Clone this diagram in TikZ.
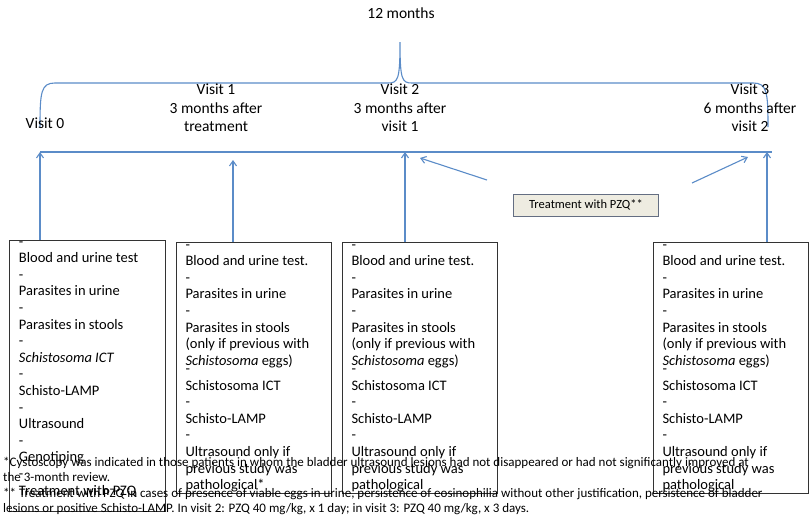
\documentclass[tikz,border=0pt]{standalone}
\usepackage{fontspec}
\setmainfont{Carlito}
\usetikzlibrary{arrows.meta}
\definecolor{lb}{RGB}{91,140,200}
\definecolor{tbg}{RGB}{238,236,225}
\definecolor{tbd}{RGB}{100,110,130}
\newcommand{\itm}[1]{-\hspace{1.1em}\parbox[t]{128pt}{\raggedright #1}\\}
\begin{document}
\begin{tikzpicture}[x=1pt,y=-1pt,
  bl/.style={draw=lb,line width=1.1pt},
  ar/.style={bl,-{Straight Barb[length=5pt,width=7pt]}},
  lab/.style={font=\fontsize{15.5}{18.5}\selectfont,align=center,inner sep=0pt},
  box/.style={draw=black!80,line width=1pt,anchor=north west,inner sep=0pt,minimum width=#1,font=\fontsize{14.5}{16.6}\selectfont,align=left}]
\useasboundingbox (0,0) rectangle (811,525);
\fill[white] (0,0) rectangle (811,525);
\node[lab] (m12) at (401,13) {12 months};
\draw[bl] (40,127) .. controls (40,92) and (41,83) .. (55,83) -- (388,83) .. controls (398,83) and (400,80) .. (400,42)
  (400,42) .. controls (400,80) and (402,83) .. (412,83) -- (753,83) .. controls (767,83) and (768,92) .. (768,127);
\node[lab] (v0) at (45,123) {Visit 0};
\node[lab,anchor=north] (v1) at (216,84) {Visit 1\\3 months after\\treatment};
\node[lab,anchor=north] (v2) at (400,84) {Visit 2\\3 months after\\visit 1};
\node[lab,anchor=north] (v3) at (750,84) {Visit 3\\6 months after\\visit 2};
\coordinate (tl) at (40,152); \coordinate (tr) at (772,152);
\draw[bl] (tl) -- (tr);
\node[draw=tbd,line width=1pt,fill=tbg,minimum width=145pt,minimum height=22pt,font=\fontsize{12.5}{14}\selectfont] (pzq) at (586,205) {Treatment with PZQ**};
\coordinate (p1s) at (487,180); \coordinate (p1e) at (420,158);
\coordinate (p2s) at (692,183); \coordinate (p2e) at (748,157);
\draw[ar] (p1s) -- (p1e);
\draw[ar] (p2s) -- (p2e);
\node[box=156pt,minimum height=143pt] (b0) at (9,240) {\hspace*{9pt}\begin{minipage}[t]{146pt}\vspace{1pt}
\itm{Blood and urine test}\itm{Parasites in urine}\itm{Parasites in stools}\itm{\textit{Schistosoma ICT}}\itm{Schisto-LAMP}\itm{Ultrasound}\itm{Genotiping}\itm{Treatment with PZQ}\end{minipage}};
\newcommand{\later}[1]{\hspace*{9pt}\begin{minipage}[t]{146pt}\vspace{2pt}
\itm{Blood and urine test.}\itm{Parasites in urine}\itm{Parasites in stools\\(only if previous with\\\textit{Schistosoma} eggs)}\itm{Schistosoma ICT}\itm{Schisto-LAMP}\itm{Ultrasound only if\\previous study was\\pathological#1}\end{minipage}}
\node[box=155pt,minimum height=176pt] (b1) at (176,242) {\later{*}};
\node[box=155pt,minimum height=176pt] (b2) at (342,242) {\later{}};
\node[box=155pt,minimum height=176pt] (b3) at (653,242) {\later{}};
\draw[ar] ([xshift=31pt]b0.north west) -- (tl);
\draw[ar] ([xshift=57pt]b1.north west) -- (233,160);
\draw[ar] ([xshift=63pt]b2.north west) -- (405,152);
\draw[ar] ([xshift=114pt]b3.north west) -- (767,152);
\node[anchor=north west,inner sep=0pt,align=left,font=\fontsize{13}{15.5}\selectfont] (fn) at (3,457)
{*Cystoscopy was indicated in those patients in whom the bladder ultrasound lesions had not disappeared or had not significantly improved at\\
the 3-month review.\\
** Treatment with PZQ in cases of presence of viable eggs in urine, persistence of eosinophilia without other justification, persistence of bladder\\
lesions or positive Schisto-LAMP. In visit 2: PZQ 40 mg/kg, x 1 day; in visit 3: PZQ 40 mg/kg, x 3 days.};
\end{tikzpicture}
\end{document}
